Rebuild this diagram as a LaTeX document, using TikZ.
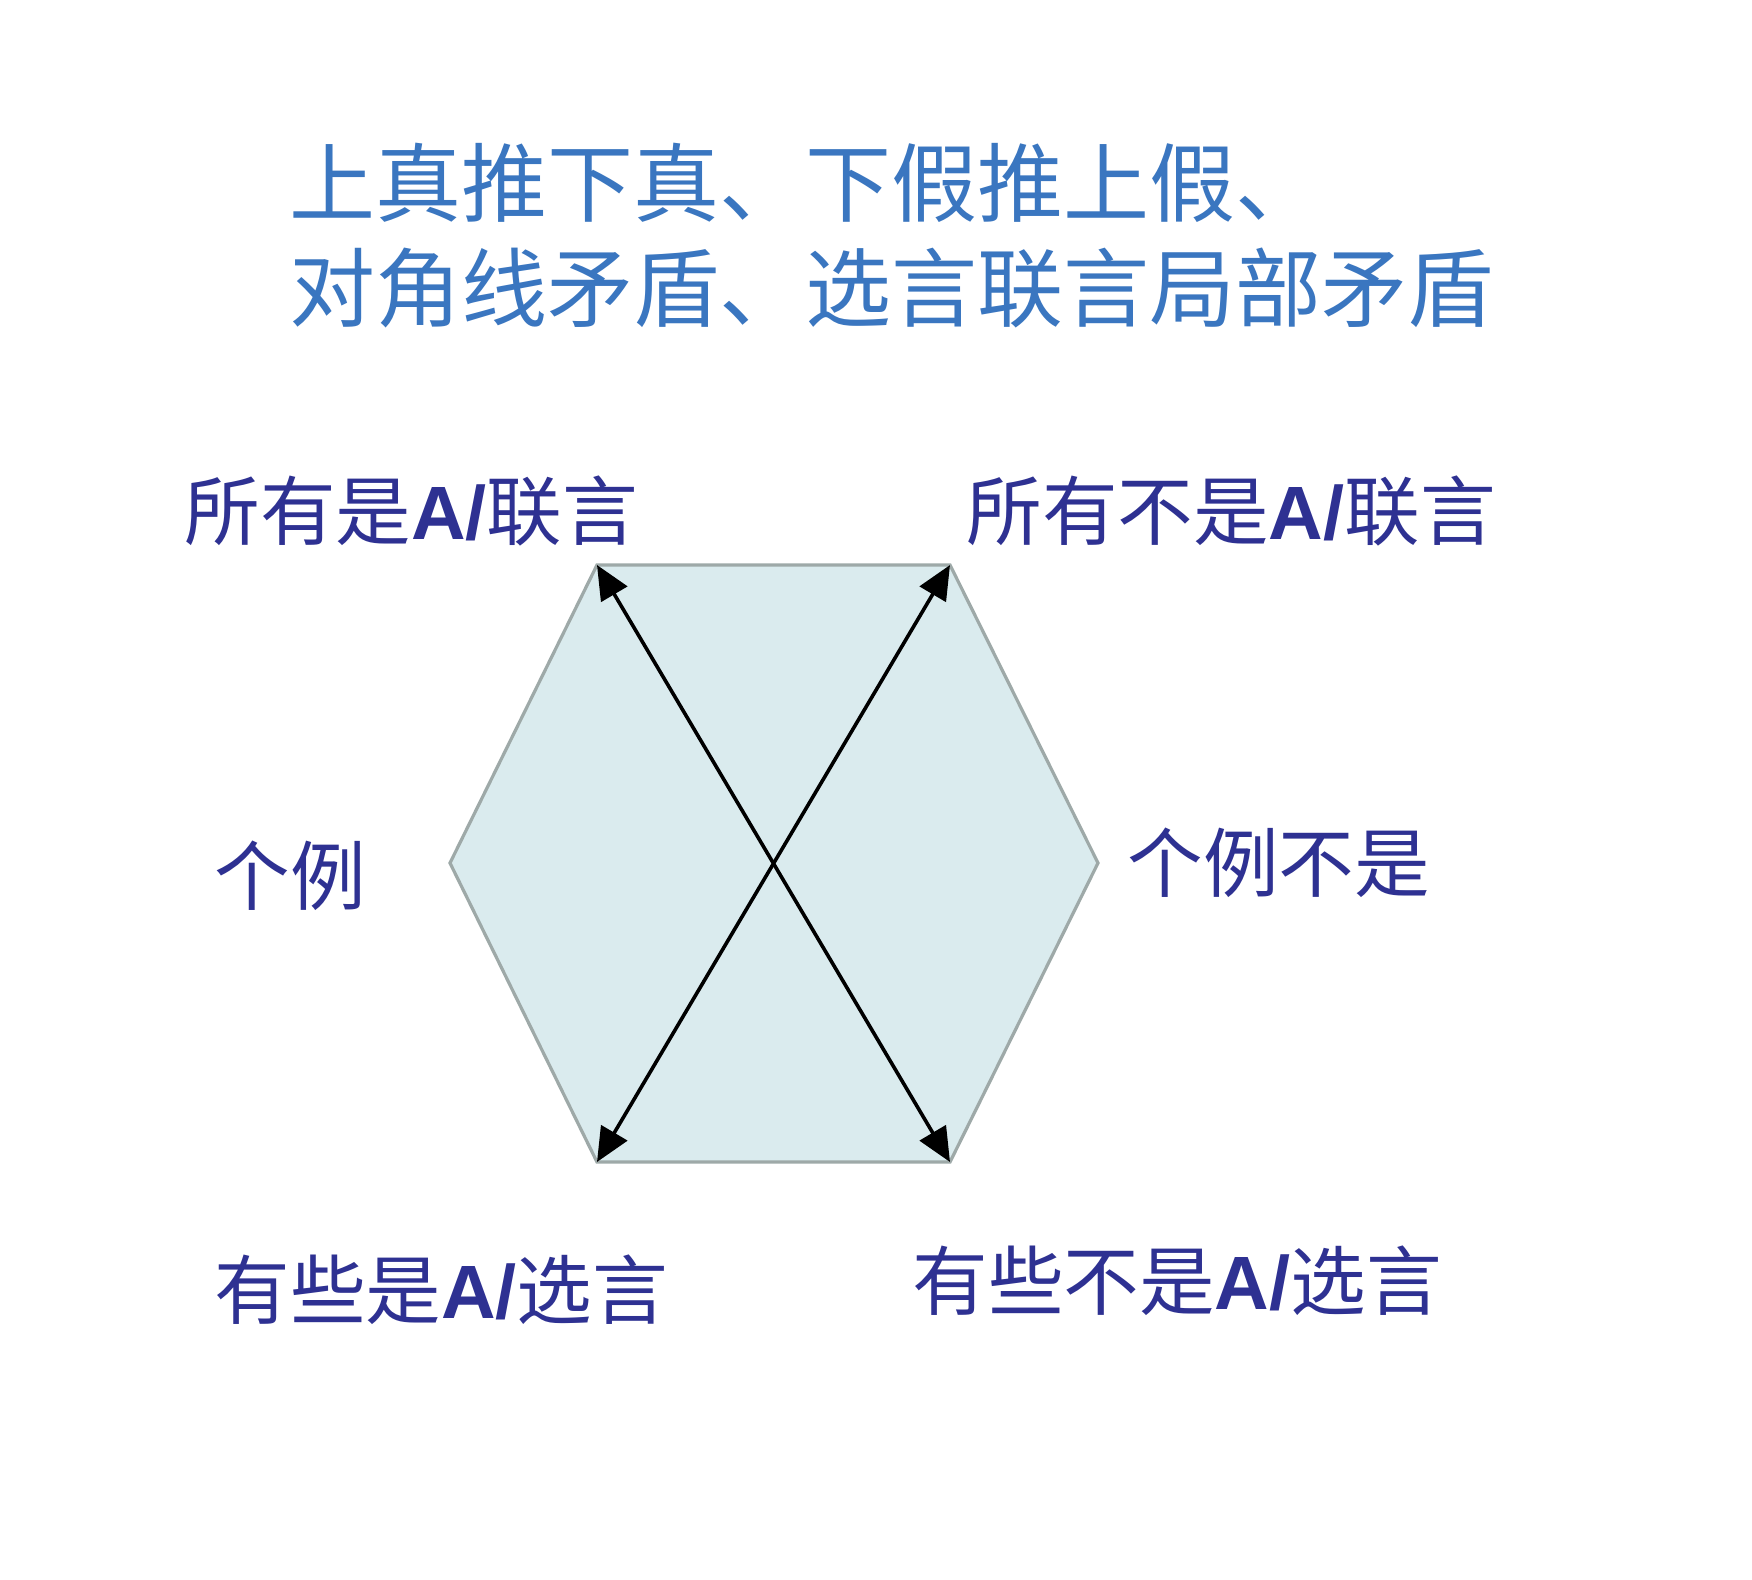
\documentclass[tikz,border=0pt]{standalone}
\usepackage{fontspec}
\usetikzlibrary{arrows.meta}
\newfontfamily\cjkfont{Noto Sans CJK SC}
\newfontfamily\latfont{Liberation Sans}
\definecolor{titleblue}{HTML}{3A76C0}
\definecolor{labelblue}{HTML}{2E3192}
\definecolor{hexfill}{HTML}{DAEBEE}
\definecolor{hexline}{HTML}{9EA9A8}
\newcommand{\AS}{{\latfont\bfseries A/}}
\tikzset{
  titletext/.style={anchor=west, inner sep=0pt, text=titleblue, font=\cjkfont\fontsize{43}{50}\selectfont},
  labeltext/.style={anchor=west, inner sep=0pt, text=labelblue, font=\cjkfont\fontsize{37.8}{46}\selectfont},
  hexshape/.style={fill=hexfill, draw=hexline, line width=1.6pt, line join=miter},
  diag/.style={line width=1.8pt, {Triangle[length=17pt,width=15pt]}-{Triangle[length=17pt,width=15pt]}}
}
\begin{document}
\begin{tikzpicture}[x=0.5pt,y=-0.5pt]
\useasboundingbox (0,0) rectangle (1752,1580);
\fill[white] (0,0) rectangle (1752,1580);
% title
\node[titletext] (t1) at (289,183) {上真推下真、下假推上假、};
\node[titletext] (t2) at (289,288) {对角线矛盾、选言联言局部矛盾};
% hexagon
\coordinate (TL) at (597,565);
\coordinate (TR) at (950,565);
\coordinate (R) at (1098,863);
\coordinate (BR) at (950,1162);
\coordinate (BL) at (597,1162);
\coordinate (L) at (450,863);
\path[hexshape] (TL) -- (TR) -- (R) -- (BR) -- (BL) -- (L) -- cycle;
\draw[diag] (TL) -- (BR);
\draw[diag] (TR) -- (BL);
% labels
\node[labeltext] (a) at (184,511) {所有是\AS 联言};
\node[labeltext] (e) at (966,511) {所有不是\AS 联言};
\node[labeltext] (i0) at (214,876) {个例};
\node[labeltext] (o0) at (1127,863) {个例不是};
\node[labeltext] (i) at (214,1290) {有些是\AS 选言};
\node[labeltext] (o) at (912,1281) {有些不是\AS 选言};
\end{tikzpicture}
\end{document}
